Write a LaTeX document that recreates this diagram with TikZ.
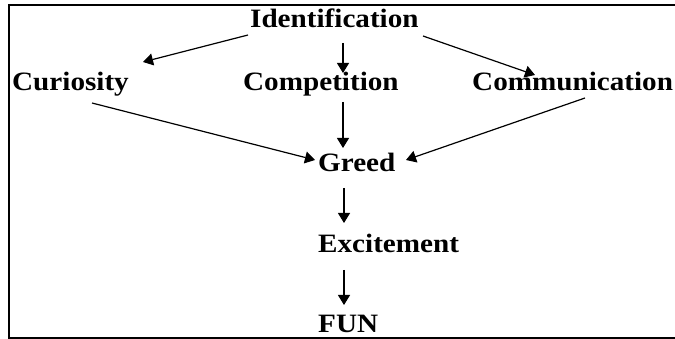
\documentclass[tikz,border=0pt]{standalone}
\usepackage{fontspec}
\setmainfont{Liberation Serif}[FakeStretch=1.1]
\usetikzlibrary{arrows.meta}

\begin{document}
\begin{tikzpicture}[x=1pt, y=-1pt,
    word/.style={inner sep=0pt, anchor=base west, font=\fontsize{26.5}{31}\selectfont\bfseries},
    arrow/.style={-{Triangle[length=10pt,width=12pt]}, line width=1.2pt}]
    \useasboundingbox (0,0) rectangle (675,339);
    % Frame
    \draw[line width=2.5pt] (680,5) -- (9,5) -- (9,338) -- (680,338);

    % Top
    \node[word] (identification) at (250,28) {Identification};

    % Middle row
    \node[word] (curiosity) at (12,91) {Curiosity};
    \node[word] (competition) at (243,91) {Competition};
    \node[word] (communication) at (472,91) {Communication};

    % Chain down
    \node[word] (greed) at (318,172) {Greed};
    \node[word] (excitement) at (318,253) {Excitement};
    \node[word] (fun) at (318,332) {FUN};

    % Arrows
    \draw[arrow] ([shift={(-2,7)}]identification.base west) -- ([shift={(131,-29)}]curiosity.base west);
    \draw[arrow] ([shift={(93,15)}]identification.base west) -- ([shift={(100,-18)}]competition.base west);
    \draw[arrow] ([shift={(173,8)}]identification.base west) -- ([shift={(63,-16)}]communication.base west);
    \draw[arrow] ([shift={(80,12)}]curiosity.base west) -- ([shift={(-3,-12)}]greed.base west);
    \draw[arrow] ([shift={(100,11)}]competition.base west) -- ([shift={(25,-24)}]greed.base west);
    \draw[arrow] ([shift={(113,7)}]communication.base west) -- ([shift={(88,-12)}]greed.base west);
    \draw[arrow] ([shift={(26,16)}]greed.base west) -- ([shift={(26,-30)}]excitement.base west);
    \draw[arrow] ([shift={(26,17)}]excitement.base west) -- ([shift={(26,-27)}]fun.base west);
\end{tikzpicture}
\end{document}
